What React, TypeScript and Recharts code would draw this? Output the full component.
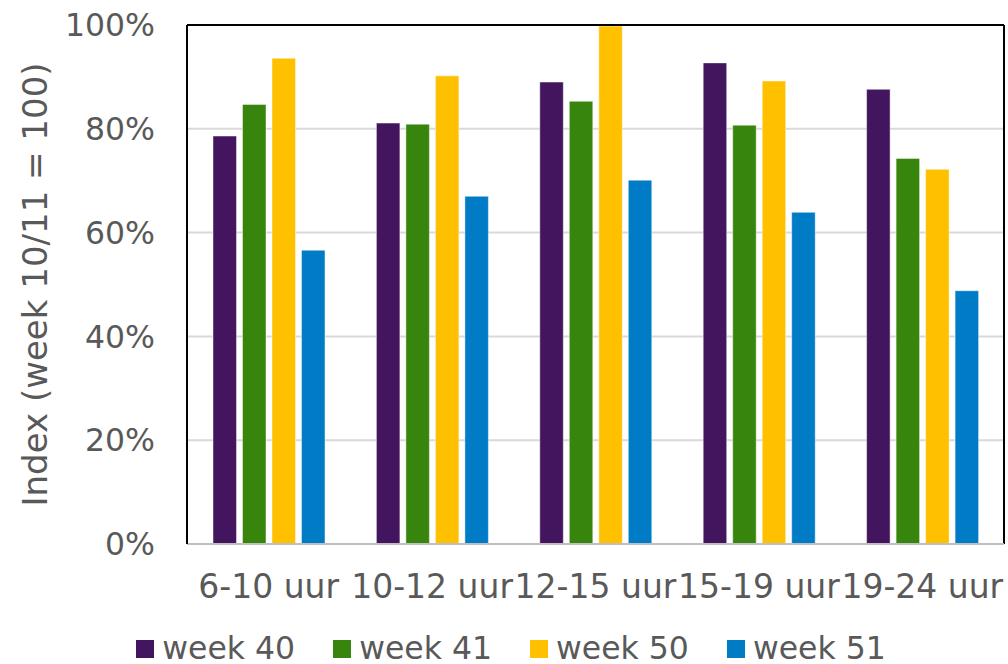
import React from 'react';
import { BarChart, Bar, XAxis, YAxis, CartesianGrid, Legend, ReferenceLine } from 'recharts';

const categories = ['6-10 uur', '10-12 uur', '12-15 uur', '15-19 uur', '19-24 uur'];
const week40 = [78.6, 81.1, 89.0, 92.7, 87.6];
const week41 = [84.7, 80.9, 85.3, 80.7, 74.3];
const week50 = [93.6, 90.2, 99.8, 89.2, 72.2];
const week51 = [56.6, 67.0, 70.1, 63.9, 48.8];
const yTicks = [0, 20, 40, 60, 80, 100];

const seriesNames = ['week 40', 'week 41', 'week 50', 'week 51'];
const seriesColors = ['#43155E', '#38850E', '#FFC000', '#007CC7'];

const data = categories.map((c, i) => ({
  cat: c,
  w40: week40[i],
  w41: week41[i],
  w50: week50[i],
  w51: week51[i],
}));

const FONT = '"DejaVu Sans", Verdana, sans-serif';
const TEXT = '#595959';

const renderLegend = (props: any) => {
  const payload = props.payload || [];
  return (
    <div
      style={{
        height: 40,
        display: 'flex',
        justifyContent: 'center',
        alignItems: 'center',
        paddingTop: 8,
        paddingLeft: 18,
        boxSizing: 'border-box',
        fontFamily: FONT,
        fontSize: 31.5,
        color: TEXT,
      }}
    >
      {payload.map((p: any, i: number) => (
        <div
          key={i}
          style={{
            display: 'flex',
            alignItems: 'center',
            marginRight: i < payload.length - 1 ? 38 : 0,
            lineHeight: '32px',
            height: 32,
          }}
        >
          <span style={{ width: 18, height: 18, background: p.color, display: 'inline-block', marginRight: 8, marginTop: 2 }} />
          <span>{p.value}</span>
        </div>
      ))}
    </div>
  );
};

const YLabel = (props: any) => {
  const vb = props.viewBox || { x: 0, y: 0, width: 0, height: 0 };
  const cx = vb.x + 35;
  const cy = vb.y + vb.height / 2;
  return (
    <text
      x={cx}
      y={cy}
      transform={`rotate(-90, ${cx}, ${cy})`}
      textAnchor="middle"
      dominantBaseline="central"
      fontSize={34}
      fontFamily={FONT}
      fill={TEXT}
    >
      Index (week 10/11 = 100)
    </text>
  );
};

export default function App() {
  const keys = ['w40', 'w41', 'w50', 'w51'];
  return (
    <div style={{ position: 'absolute', left: 0, top: 0, width: 1008, height: 664, background: '#fff' }}>
      <BarChart
        width={1008}
        height={664}
        data={data}
        margin={{ top: 25, right: 4, left: 0, bottom: 0 }}
        barGap={6}
        barSize={23.5}
        style={{ fontFamily: FONT }}
      >
        <CartesianGrid vertical={false} stroke="#d9d9d9" strokeWidth={2} />
        <XAxis
          dataKey="cat"
          height={80}
          tickSize={0}
          tickMargin={31}
          axisLine={{ stroke: '#bfbfbf', strokeWidth: 2 }}
          tick={{ fontSize: 33, fill: TEXT, fontFamily: FONT }}
          interval={0}
        />
        <YAxis
          width={187}
          domain={[0, 100]}
          ticks={yTicks}
          tickFormatter={(v: number) => `${v}%`}
          tickSize={0}
          tickMargin={32}
          axisLine={{ stroke: '#000', strokeWidth: 2 }}
          tick={{ fontSize: 31.5, fill: TEXT, fontFamily: FONT }}
          label={<YLabel />}
        />
        <Legend verticalAlign="bottom" content={renderLegend} />
        {keys.map((k, i) => (
          <Bar
            key={k}
            dataKey={k}
            name={seriesNames[i]}
            fill={seriesColors[i]}
            stroke="rgba(255,255,255,0.45)"
            strokeWidth={1}
            isAnimationActive={false}
          />
        ))}
        <ReferenceLine y={100} stroke="#000" strokeWidth={2} />
        <ReferenceLine x={categories[categories.length - 1]} position="end" stroke="#000" strokeWidth={2} />
      </BarChart>
    </div>
  );
}
